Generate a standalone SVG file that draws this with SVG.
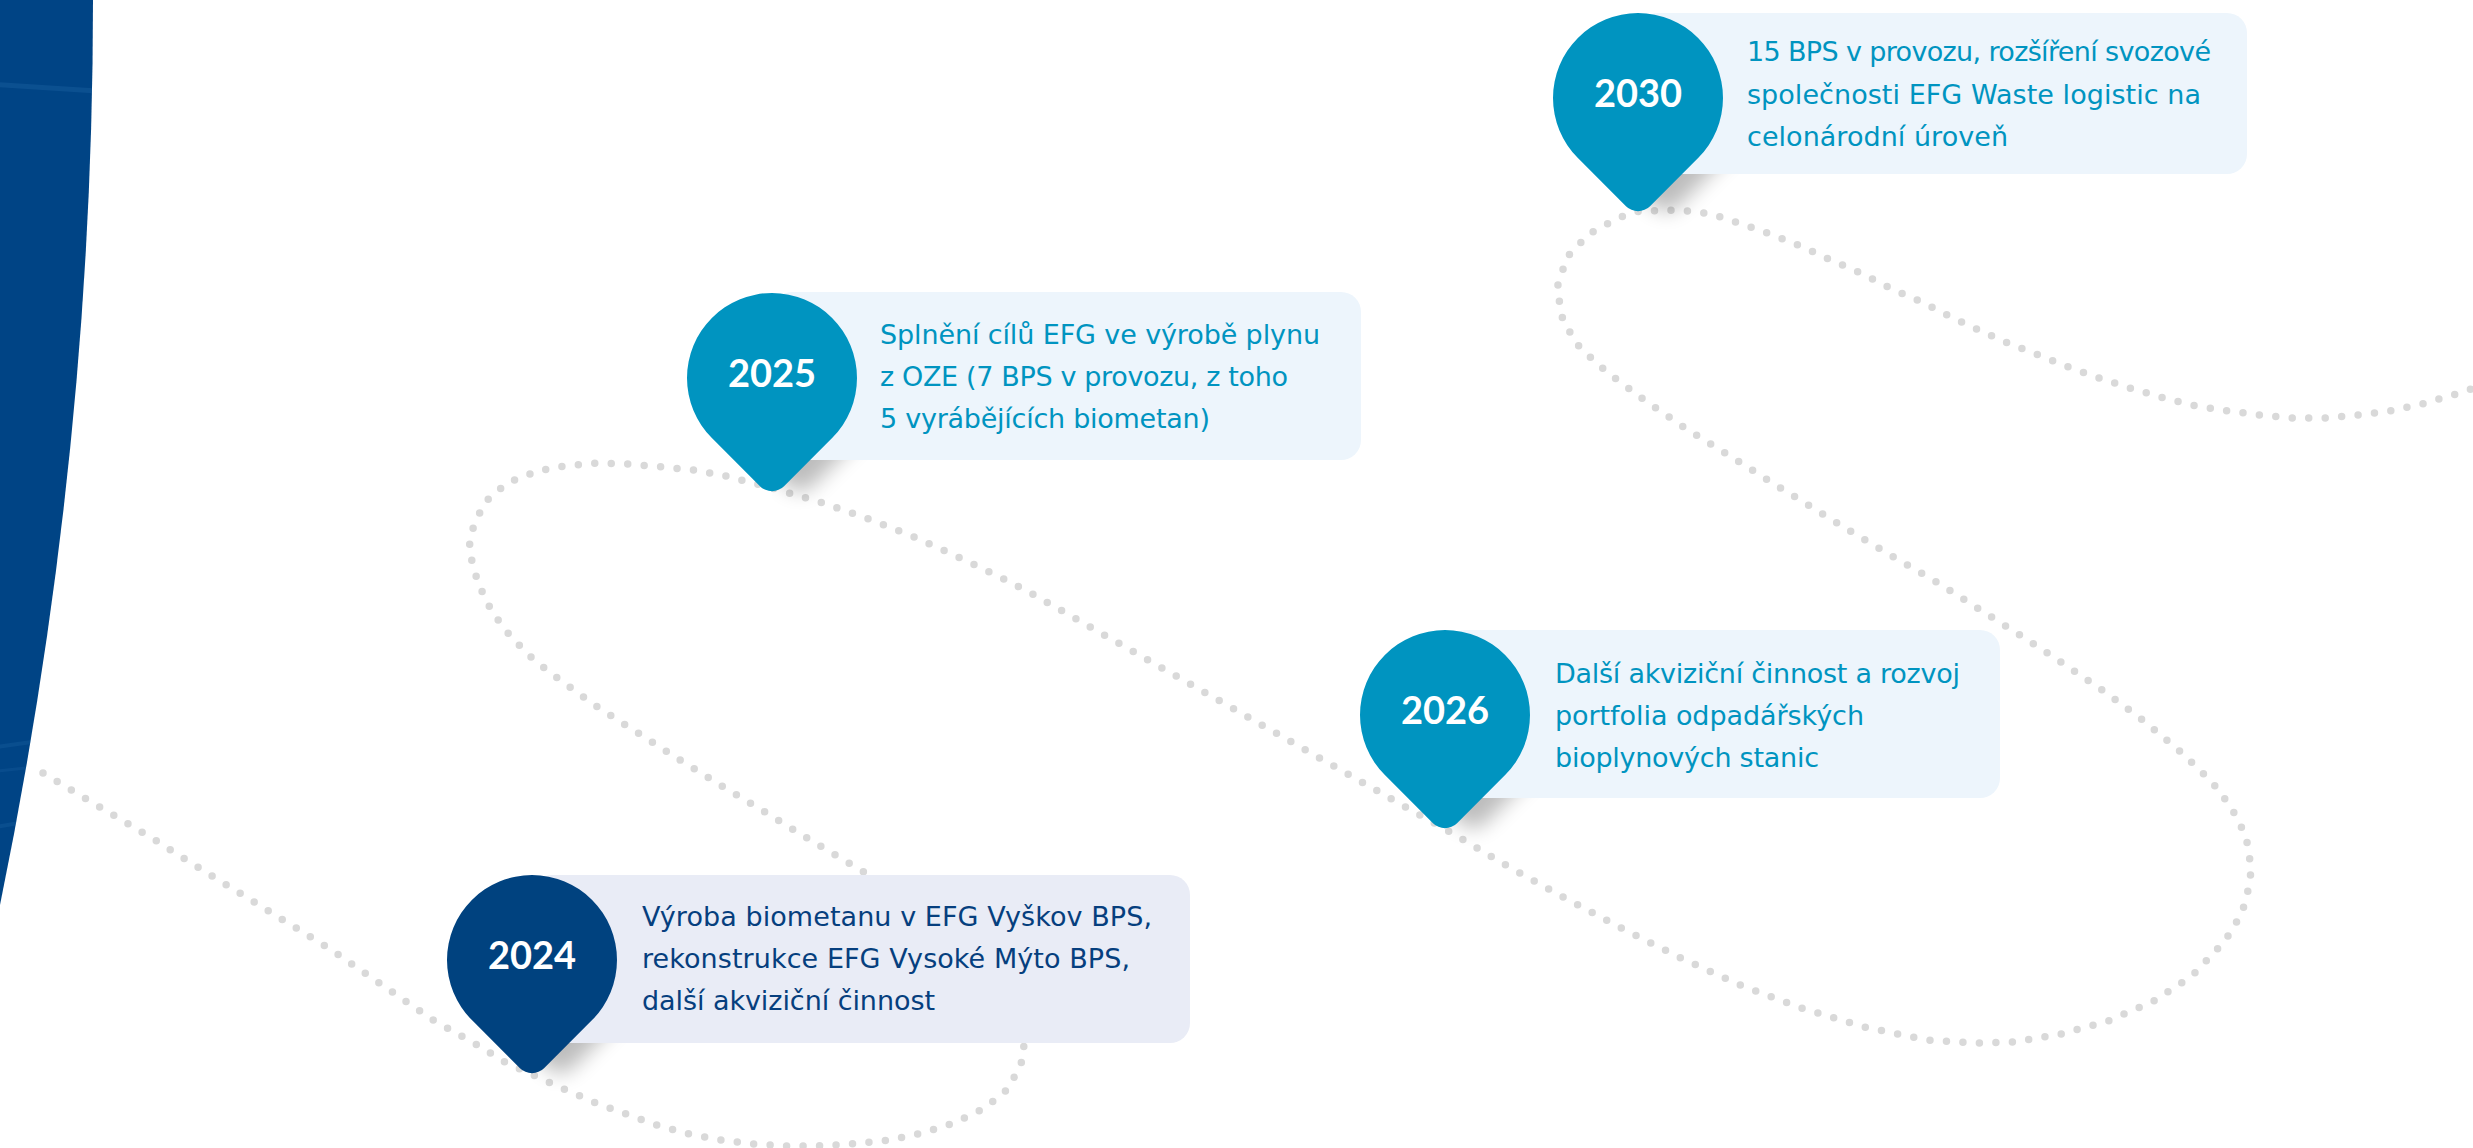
<svg xmlns="http://www.w3.org/2000/svg" width="2473" height="1148" viewBox="0 0 2473 1148">
<defs>
<style>
.dots{fill:none;stroke:#d9d9d9;stroke-width:7.5;stroke-linecap:round;stroke-linejoin:round;stroke-dasharray:0 16.5}
.box-dark{fill:#e9ecf6}
.box-light{fill:#edf5fc}
.pin-dark{fill:#00427f}
.pin-light{fill:#0094c0}
.year{font-family:Lato,"Open Sans",sans-serif;font-weight:700;font-size:38px;fill:#ffffff;text-anchor:middle}
.desc{font-family:"DejaVu Sans","Noto Sans",sans-serif;font-size:27px}
.desc-dark{fill:#063f7e}
.desc-light{fill:#0094c0}
.shadow{fill:#000000;opacity:0.26}
</style>
<filter id="blur" x="-50%" y="-50%" width="200%" height="200%"><feGaussianBlur stdDeviation="10"/></filter>
<clipPath id="leftClip"><path d="M0,0 L93,0 Q93,452 0,905 Z"/></clipPath>
<clipPath id="sh2024"><rect x="532" y="1043" width="190" height="90"/></clipPath>
<clipPath id="sh2025"><rect x="772" y="460" width="190" height="90"/></clipPath>
<clipPath id="sh2026"><rect x="1445" y="798" width="190" height="90"/></clipPath>
<clipPath id="sh2030"><rect x="1638" y="174" width="190" height="90"/></clipPath>
<path id="pin" d="M60.1,60.1 A85,85 0 1 0 -60.1,60.1 L-12.02,108.19 A17,17 0 0 0 12.02,108.19 Z"/>
</defs>

<g id="connectors">
<path class="dots" d="M43,773 L155,840 L196,866 L330,949 L433,1020 L479,1046 L505,1062 L533,1075 L566,1090 L596,1103 L626,1114 L657,1125 L689,1134 L721,1140 L754,1144 L786,1146 L817,1146 L851,1144 L891,1140 L922,1133 L954,1123 L985,1108 L1009,1088 L1023,1059 L1024,1043 C1025,985 960,930 869,875 L842,859 L807,838 L765,812 L722,786 L680,760 L638,733 L596,706 L556,677 L534,660 L511,637 L492,612 L478,583 L469,550 L471,533 L484,503 L507,483 L538,471 L564,466 L597,463 L629,464 L662,467 L694,470 L726,476 L772,488 L820,502 L866,518 L912,536 L956,556 L1000,577 L1029,592 L1409,809 L1452,833 L1509,867 L1565,898 L1623,929 L1681,958 L1740,985 L1801,1008 L1864,1027 L1927,1040 L1976,1043 L2014,1042 L2061,1034 L2108,1021 L2152,1002 L2192,976 L2225,941 L2242,913 L2250,883 L2251,867 L2246,836 L2231,807 L2212,782 L2182,753 L2144,721 L2105,692 L2064,664 L2023,637 L1982,611 L1940,584 L1897,559 L1855,534 L1813,508 L1771,482 L1730,456 L1688,430 L1647,402 L1608,373 L1580,348 L1563,321 L1557,288 L1567,257 L1589,234 L1618,218 L1640,211 L1679,210 L1711,214 L1742,224 L1773,235 L1803,247 L1833,261 L1863,274 L1892,289 L1922,302 L1951,317 L1981,331 L2010,344 L2041,356 L2071,368 L2102,379 L2133,389 L2164,398 L2196,406 L2228,411 L2260,415 L2293,418 L2325,418 L2358,415 L2390,411 L2422,404 L2453,395 L2490,383"/>
</g>

<g id="left-shape">
<path d="M0,0 L93,0 Q93,452 0,905 Z" fill="#004485"/>
<g clip-path="url(#leftClip)" fill="none" stroke="#2a73b3" stroke-linecap="round">
<path d="M-10,84 L110,92" stroke-width="5" opacity="0.25"/>
<path d="M-10,748 L60,738" stroke-width="4" opacity="0.22"/>
<path d="M-10,772 L60,764" stroke-width="3" opacity="0.18"/>
<path d="M-10,828 L60,816" stroke-width="4" opacity="0.22"/>
</g>
</g>

<g id="node-2024">
<g clip-path="url(#sh2024)"><use class="shadow" href="#pin" transform="translate(560,960)" filter="url(#blur)"/></g>
<rect class="box-dark" x="532" y="875" width="658" height="168" rx="20"/>
<use class="pin-dark" href="#pin" transform="translate(532,960)"/>
<text class="year" x="532" y="969">2024</text>
<text class="desc desc-dark" x="642" y="926" textLength="510">Výroba biometanu v EFG Vyškov BPS,</text>
<text class="desc desc-dark" x="642" y="968" textLength="488">rekonstrukce EFG Vysoké Mýto BPS,</text>
<text class="desc desc-dark" x="642" y="1010" textLength="293">další akviziční činnost</text>
</g>

<g id="node-2025">
<g clip-path="url(#sh2025)"><use class="shadow" href="#pin" transform="translate(800,378)" filter="url(#blur)"/></g>
<rect class="box-light" x="772" y="292" width="589" height="168" rx="20"/>
<use class="pin-light" href="#pin" transform="translate(772,378)"/>
<text class="year" x="772" y="387">2025</text>
<text class="desc desc-light" x="880" y="344" textLength="440">Splnění cílů EFG ve výrobě plynu</text>
<text class="desc desc-light" x="880" y="386" textLength="408">z OZE (7 BPS v provozu, z toho</text>
<text class="desc desc-light" x="880" y="428" textLength="330">5 vyrábějících biometan)</text>
</g>

<g id="node-2026">
<g clip-path="url(#sh2026)"><use class="shadow" href="#pin" transform="translate(1473,715)" filter="url(#blur)"/></g>
<rect class="box-light" x="1445" y="630" width="555" height="168" rx="20"/>
<use class="pin-light" href="#pin" transform="translate(1445,715)"/>
<text class="year" x="1445" y="724">2026</text>
<text class="desc desc-light" x="1555" y="683" textLength="405">Další akviziční činnost a rozvoj</text>
<text class="desc desc-light" x="1555" y="725" textLength="309">portfolia odpadářských</text>
<text class="desc desc-light" x="1555" y="767" textLength="264">bioplynových stanic</text>
</g>

<g id="node-2030">
<g clip-path="url(#sh2030)"><use class="shadow" href="#pin" transform="translate(1666,98)" filter="url(#blur)"/></g>
<rect class="box-light" x="1638" y="13" width="609" height="161" rx="20"/>
<use class="pin-light" href="#pin" transform="translate(1638,98)"/>
<text class="year" x="1638" y="107">2030</text>
<text class="desc desc-light" x="1747" y="61" textLength="464">15 BPS v provozu, rozšíření svozové</text>
<text class="desc desc-light" x="1747" y="103.5" textLength="454">společnosti EFG Waste logistic na</text>
<text class="desc desc-light" x="1747" y="146" textLength="261">celonárodní úroveň</text>
</g>
</svg>
